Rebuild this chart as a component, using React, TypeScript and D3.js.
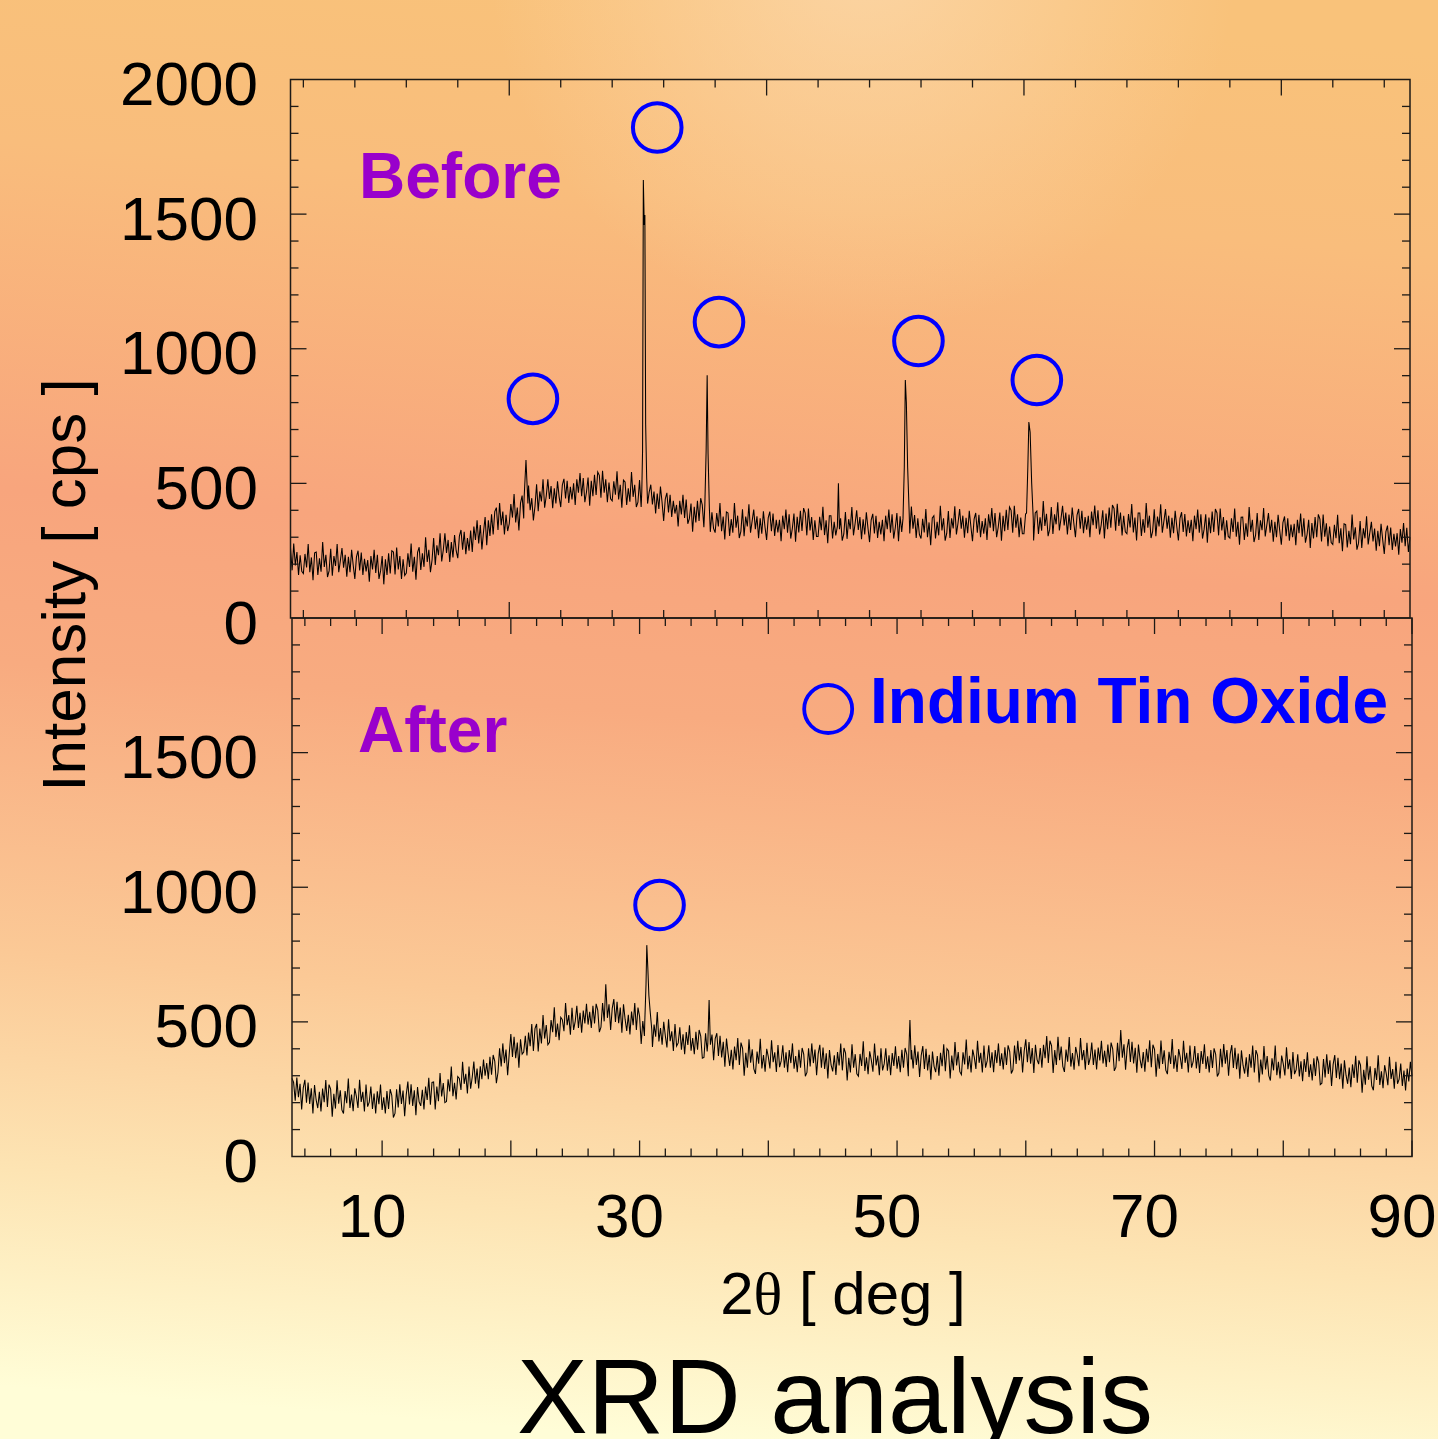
import React from "react";
import * as d3 from "d3";

const W = 1438;
const H = 1439;
const ANGLE_START = 3;
const ANGLE_STEP = 0.125;

// "Before" diffractogram, sampled every 0.125 deg from 3 to 90 deg (cps); one row per degree
const beforeBase = [
  260,177,277,195,245,160,233,173,
  165,238,188,275,170,225,140,242,
  245,160,222,172,282,190,235,152,
  175,257,157,230,193,275,170,213,
  260,187,235,153,227,170,253,195,
  145,227,250,177,243,160,220,173,
  215,135,230,180,253,167,235,145,
  175,230,125,218,160,240,165,250,
  245,162,262,180,230,145,218,158,
  167,240,190,277,172,227,142,244,
  263,178,240,190,300,208,253,170,
  215,297,197,270,233,315,210,253,
  315,242,290,208,282,225,308,250,
  222,304,327,254,320,237,297,250,
  325,245,340,290,363,277,345,255,
  320,375,270,363,305,385,310,395,
  410,327,427,345,395,310,383,323,
  350,423,373,460,355,410,325,427,
  455,370,432,382,492,400,445,362,
  415,497,397,470,433,515,410,453,
  515,442,490,408,482,425,508,450,
  412,494,517,444,510,427,487,440,
  500,420,515,465,538,452,520,430,
  467,522,417,510,452,532,457,542,
  530,447,547,465,515,430,503,443,
  435,508,458,545,440,495,410,512,
  505,420,482,432,542,450,495,412,
  430,512,412,485,448,530,425,468,
  495,422,470,388,462,405,488,430,
  360,442,465,392,458,375,435,388,
  420,340,435,385,458,372,440,350,
  370,425,320,413,355,435,360,445,
  420,337,437,355,405,320,393,333,
  317,390,340,427,322,377,292,394,
  390,305,367,317,427,335,380,297,
  322,404,304,377,340,422,317,360,
  403,330,378,296,370,313,396,338,
  290,372,395,322,388,305,365,318,
  365,285,380,330,403,317,385,295,
  333,388,283,376,318,398,323,408,
  390,307,407,325,375,290,363,303,
  303,376,326,413,308,363,278,380,
  380,295,357,307,417,325,370,287,
  312,394,294,367,330,412,307,350,
  400,327,375,293,367,310,393,335,
  282,364,387,314,380,297,357,310,
  365,285,380,330,403,317,385,295,
  335,390,285,378,320,400,325,410,
  397,314,414,332,382,297,370,310,
  295,368,318,405,300,355,270,372,
  380,295,357,307,417,325,370,287,
  315,397,297,370,333,415,310,353,
  405,332,380,298,372,315,398,340,
  285,367,390,317,383,300,360,313,
  370,290,385,335,408,322,390,300,
  337,392,287,380,322,402,327,412,
  400,317,417,335,385,300,373,313,
  313,386,336,423,318,373,288,390,
  397,312,374,324,434,342,387,304,
  330,412,312,385,348,430,325,368,
  417,344,392,310,384,327,410,352,
  300,382,405,332,398,315,375,328,
  380,300,395,345,418,332,400,310,
  345,400,295,388,330,410,335,420,
  407,324,424,342,392,307,380,320,
  313,386,336,423,318,373,288,390,
  390,305,367,317,427,335,380,297,
  322,404,304,377,340,422,317,360,
  405,332,380,298,372,315,398,340,
  288,370,393,320,386,303,363,316,
  365,285,380,330,403,317,385,295,
  330,385,280,373,315,395,320,405,
  390,307,407,325,375,290,363,303,
  297,370,320,407,302,357,272,374,
  375,290,352,302,412,320,365,282,
  308,390,290,363,326,408,303,346,
  390,317,365,283,357,300,383,325,
  272,354,377,304,370,287,347,300,
  350,270,365,315,388,302,370,280,
  310,365,260,353,295,375,300,385,
  367,284,384,302,352,267,340,280,
  273,346,296,383,278,333,248,350,
  347,262,324,274,384,292,337,254,
  278,360,260,333,296,378,273,316,
  357,284,332,250,324,267,350,292,
  238,320,343,270,336,253,313,266,
  315,235,330,280,353,267,335,245,
  300,
];

// sharp reflections of the "Before" pattern: [2theta, cps]
const beforePeaks: [number, number][][] = [
  [[21.15, 440], [21.3, 587], [21.45, 425]],
  [[30.3, 470], [30.36, 620], [30.42, 1627], [30.49, 1460], [30.54, 1497], [30.6, 720], [30.68, 520]],
  [[35.2, 420], [35.3, 620], [35.38, 902], [35.45, 610], [35.55, 410]],
  [[45.5, 340], [45.58, 500], [45.66, 330]],
  [[50.6, 370], [50.7, 560], [50.78, 884], [50.86, 800], [50.96, 560], [51.08, 390]],
  [[60.2, 390], [60.3, 560], [60.38, 728], [60.48, 690], [60.6, 500], [60.72, 370]],
];

// "After" diffractogram, sampled every 0.125 deg from 3 to 90 deg (cps); one row per degree
const afterBase = [
  290,275,207,293,220,270,175,255,
  285,200,275,195,253,160,265,210,
  180,240,167,252,202,284,184,267,
  250,148,233,178,283,196,246,173,
  160,243,198,290,180,230,168,253,
  223,180,285,203,240,167,267,185,
  202,260,177,234,160,242,194,267,
  173,220,160,243,177,250,227,145,
  160,250,182,268,195,245,150,230,
  278,193,268,188,246,153,258,203,
  188,248,175,260,210,292,192,275,
  277,175,260,205,310,223,273,200,
  204,287,242,334,224,274,212,297,
  290,247,352,270,307,234,334,252,
  295,353,270,327,253,335,287,360,
  300,347,287,370,304,377,354,272,
  312,402,334,420,347,397,302,382,
  455,370,445,365,423,330,435,380,
  388,448,375,460,410,492,392,475,
  492,390,475,420,525,438,488,415,
  424,507,462,554,444,494,432,517,
  508,465,570,488,525,452,552,470,
  502,560,477,534,460,542,494,567,
  490,537,477,560,494,567,544,462,
  480,570,502,640,515,565,470,550,
  585,500,575,495,553,460,565,510,
  466,526,453,538,488,570,470,553,
  520,418,503,448,553,466,516,443,
  407,490,445,537,427,477,415,500,
  448,405,510,428,465,392,492,410,
  422,480,397,454,380,462,414,487,
  393,440,380,463,397,470,447,365,
  368,458,390,476,403,453,358,438,
  458,373,448,368,426,333,438,383,
  336,396,323,408,358,440,340,423,
  402,300,385,330,435,348,398,325,
  307,390,345,437,327,377,315,400,
  370,327,432,350,387,314,414,332,
  355,413,330,387,313,395,347,420,
  326,373,313,396,330,403,380,298,
  312,402,334,420,347,397,302,382,
  415,330,405,325,383,290,395,340,
  316,376,303,388,338,420,320,403,
  384,282,367,312,417,330,380,307,
  298,381,336,428,318,368,306,391,
  358,315,420,338,375,302,402,320,
  344,402,319,376,302,384,336,409,
  326,373,313,396,330,403,380,298,
  305,395,327,413,340,390,295,375,
  410,325,400,320,378,285,390,335,
  313,373,300,385,335,417,317,400,
  392,290,375,320,425,338,388,315,
  304,387,342,434,324,374,312,397,
  368,325,430,348,385,312,412,330,
  355,413,330,387,313,395,347,420,
  336,383,323,406,340,413,390,308,
  322,412,344,430,357,407,312,392,
  435,350,425,345,403,310,415,360,
  343,403,330,415,365,447,347,430,
  412,310,395,340,445,358,408,335,
  314,397,352,444,334,384,322,407,
  378,335,440,358,395,322,422,340,
  365,423,340,397,323,405,357,430,
  346,393,333,416,350,423,400,318,
  332,422,354,470,367,417,322,402,
  436,351,426,346,404,311,416,361,
  328,388,315,400,350,432,332,415,
  398,296,381,326,431,344,394,321,
  306,389,344,436,326,376,314,399,
  368,325,430,348,385,312,412,330,
  352,410,327,384,310,392,344,417,
  325,372,312,395,329,402,379,297,
  310,400,332,418,345,395,300,380,
  414,329,404,324,382,289,394,339,
  308,368,295,380,330,412,312,395,
  377,275,360,305,410,323,373,300,
  282,365,320,412,302,352,290,375,
  344,301,406,324,361,288,388,306,
  322,380,297,354,280,362,314,387,
  295,342,282,365,299,372,349,267,
  272,362,294,380,307,357,262,342,
  377,292,367,287,345,252,357,302,
  270,330,257,342,292,374,274,357,
  339,237,322,267,372,285,335,262,
  246,329,284,376,266,316,254,339,
  308,265,370,288,325,252,352,270,
  287,345,262,319,245,327,279,352,
  298,
];

const afterPeaks: [number, number][][] = [
  [[30.4, 495], [30.5, 640], [30.56, 785], [30.64, 700], [30.72, 600], [30.82, 540], [30.95, 470]],
  [[35.3, 420], [35.4, 581], [35.5, 415]],
  [[50.9, 370], [51.0, 507], [51.1, 360]],
];

// ITO reflection markers (circle centres in data units)
const beforeMarks: [number, number][] = [
  [21.84, 814], [31.5, 1822], [36.3, 1099], [51.8, 1029], [61.0, 884],
];
const afterMarks: [number, number][] = [[31.55, 934]];
const legendMark: [number, number] = [44.65, 1662];

const yTickLabelsTop = [0, 500, 1000, 1500, 2000];
const yTickLabelsBottom = [0, 500, 1000, 1500];
const xTickLabels = [10, 30, 50, 70, 90];

function mergeSeries(base: number[], peaks: [number, number][][]): [number, number][] {
  const pts: [number, number][] = base.map((v, i) => [ANGLE_START + i * ANGLE_STEP, v]);
  const kept = pts.filter(
    ([a]) => !peaks.some((g) => a >= g[0][0] && a <= g[g.length - 1][0])
  );
  const all = kept.concat(...peaks);
  return all.sort((p, q) => p[0] - q[0]);
}

const AX = "#1e1a16";
const BLUE = "#0000ff";
const PURPLE = "#9900cc";

type PanelProps = {
  x0: number;
  x1: number;
  yBottom: number;
  yTop: number;
  data: [number, number][];
  marks: [number, number][];
  xMinorStep: number;
  xMajorStep: number;
};

function Panel({ x0, x1, yBottom, yTop, data, marks, xMinorStep, xMajorStep }: PanelProps) {
  const x = d3.scaleLinear().domain([3, 90]).range([x0, x1]);
  const y = d3.scaleLinear().domain([0, 2000]).range([yBottom, yTop]);
  const line = d3
    .line<[number, number]>()
    .x((d) => x(d[0]))
    .y((d) => y(d[1]));
  const xt = d3.range(4, 90.001, xMinorStep);
  const yt = d3.range(100, 2000, 100);
  const minor = 8;
  const major = 16;
  return (
    <g>
      <path d={line(data) || ""} fill="none" stroke="#000" strokeWidth={1.05} />
      {xt.map((v) => {
        const len = Math.abs(v % xMajorStep) < 1e-6 ? major : minor;
        return (
          <g key={"x" + v}>
            <line x1={x(v)} x2={x(v)} y1={yTop} y2={yTop + len} stroke={AX} strokeWidth={1.3} />
            <line x1={x(v)} x2={x(v)} y1={yBottom} y2={yBottom - len} stroke={AX} strokeWidth={1.3} />
          </g>
        );
      })}
      {yt.map((v) => {
        const len = v % 500 === 0 ? major : minor;
        return (
          <g key={"y" + v}>
            <line x1={x0} x2={x0 + len} y1={y(v)} y2={y(v)} stroke={AX} strokeWidth={1.3} />
            <line x1={x1} x2={x1 - len} y1={y(v)} y2={y(v)} stroke={AX} strokeWidth={1.3} />
          </g>
        );
      })}
      <rect x={x0} y={yTop} width={x1 - x0} height={yBottom - yTop} fill="none" stroke={AX} strokeWidth={1.5} />
      {marks.map((m, i) => (
        <circle key={"m" + i} cx={x(m[0])} cy={y(m[1])} r={24.3} fill="none" stroke={BLUE} strokeWidth={4} />
      ))}
    </g>
  );
}

export default function App() {
  const before = mergeSeries(beforeBase, beforePeaks);
  const after = mergeSeries(afterBase, afterPeaks);

  const topY = d3.scaleLinear().domain([0, 2000]).range([618, 79.5]);
  const botX = d3.scaleLinear().domain([3, 90]).range([292, 1412]);
  const botY = d3.scaleLinear().domain([0, 2000]).range([1156.5, 618]);

  const font = "'Liberation Sans', Arial, Helvetica, sans-serif";

  return (
    <svg
      width={W}
      height={H}
      viewBox={`0 0 ${W} ${H}`}
      style={{ position: "absolute", left: 0, top: 0, display: "block" }}
      fontFamily={font}
    >
      <defs>
        <linearGradient id="bg" x1="0.54" y1="0" x2="0.46" y2="1">
          <stop offset="0" stopColor="#f9c27a" />
          <stop offset="0.14" stopColor="#f9bd7c" />
          <stop offset="0.38" stopColor="#f8a57d" />
          <stop offset="0.5" stopColor="#f8ab80" />
          <stop offset="0.7" stopColor="#fbc996" />
          <stop offset="0.85" stopColor="#fde4b3" />
          <stop offset="1" stopColor="#fffdd7" />
        </linearGradient>
        <radialGradient id="glow" cx="0.6" cy="-0.03" r="0.26">
          <stop offset="0" stopColor="#fcdab0" stopOpacity="0.75" />
          <stop offset="1" stopColor="#fcdab0" stopOpacity="0" />
        </radialGradient>
      </defs>
      <rect x={0} y={0} width={W} height={H} fill="url(#bg)" />
      <rect x={0} y={0} width={W} height={H} fill="url(#glow)" />

      <Panel x0={290.5} x1={1410} yBottom={618} yTop={79.5} data={before} marks={beforeMarks} xMinorStep={4} xMajorStep={20} />
      <Panel x0={292} x1={1412} yBottom={1156.5} yTop={618} data={after} marks={afterMarks} xMinorStep={2} xMajorStep={10} />

      {yTickLabelsTop.map((v) => (
        <text key={"lt" + v} x={258} y={topY(v) + 25.5} fontSize={62} textAnchor="end" fill="#000">
          {v}
        </text>
      ))}
      {yTickLabelsBottom.map((v) => (
        <text key={"lb" + v} x={258} y={botY(v) + 25.5} fontSize={62} textAnchor="end" fill="#000">
          {v}
        </text>
      ))}
      {xTickLabels.map((v) => (
        <text key={"xl" + v} x={botX(v) - 10} y={1237} fontSize={62} textAnchor="middle" fill="#000">
          {v}
        </text>
      ))}

      <text x={843} y={1314} fontSize={60} textAnchor="middle" fill="#000">
        2<tspan fontFamily="'Liberation Serif', 'Times New Roman', serif">θ</tspan> [ deg ]
      </text>
      <text transform="translate(85,585) rotate(-90)" fontSize={62} textAnchor="middle" fill="#000">
        Intensity [ cps ]
      </text>

      <text x={359} y={198} fontSize={64} fontWeight="bold" fill={PURPLE}>Before</text>
      <text x={358} y={752} fontSize={64} fontWeight="bold" fill={PURPLE}>After</text>

      <circle cx={botX(legendMark[0])} cy={botY(legendMark[1])} r={24} fill="none" stroke={BLUE} strokeWidth={3.8} />
      <text x={870} y={723} fontSize={64} fontWeight="bold" fill={BLUE}>Indium Tin Oxide</text>

      <text x={835} y={1433} fontSize={106} textAnchor="middle" fill="#000">XRD analysis</text>
    </svg>
  );
}
